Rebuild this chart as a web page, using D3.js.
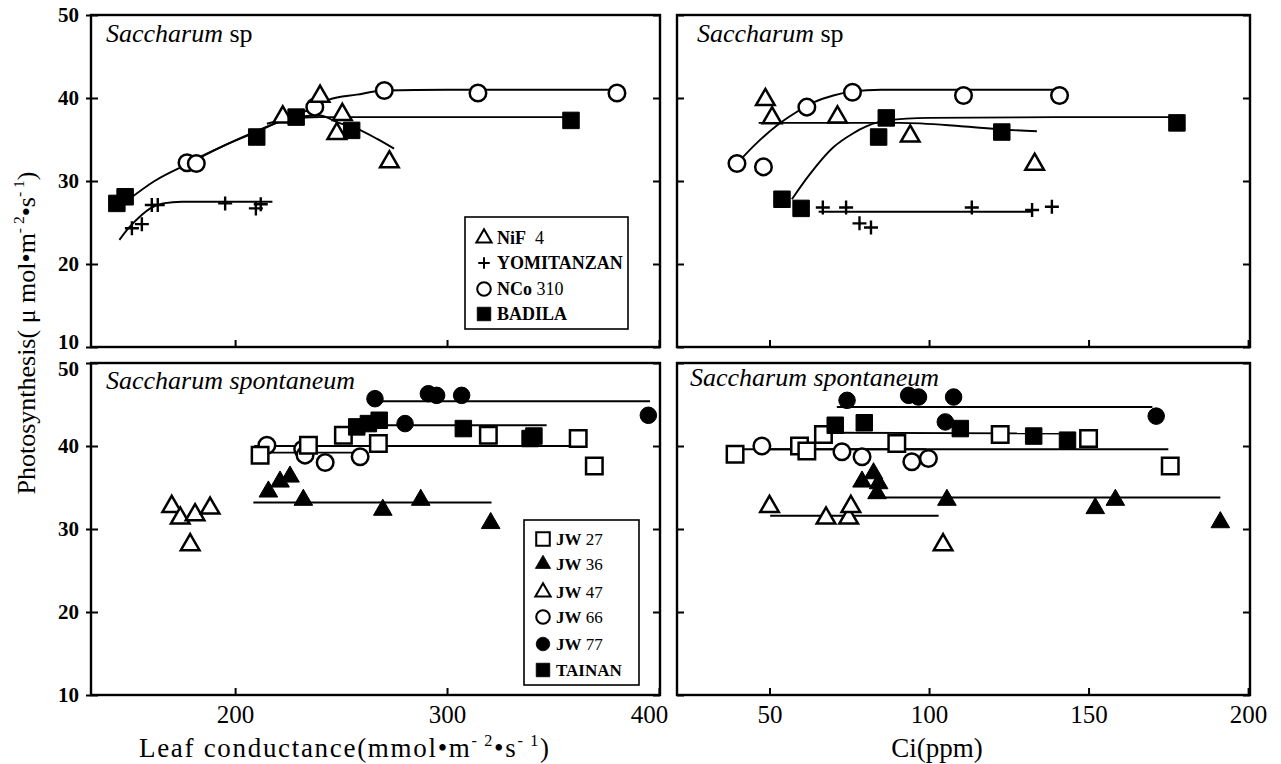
<!DOCTYPE html>
<html>
<head>
<meta charset="utf-8">
<script src="https://cdn.jsdelivr.net/npm/d3@7"></script>
<style>
  body { margin: 0; background: #fff; }
</style>
</head>
<body>
<script>
// ---- data ----
// top panels: Saccharum sp, [x, photosynthesis]
var nif4Cond   = [[222.5,37.7],[240.1,40.2],[250.6,38.0],[248,35.7],[272.8,32.3]];
var yomiCond   = [[151.3,24.3],[156,24.8],[160.7,27.1],[163.5,27.1],[195.3,27.3],[209.8,26.7],[212.1,27.2]];
var nco310Cond = [[177.3,32.2],[181.7,32.1],[237.6,38.9],[270.4,40.9],[314.6,40.6],[380.2,40.6]];
var badilaCond = [[144.2,27.3],[148.1,28.1],[210.2,35.3],[228.8,37.7],[255,36.1],[358.5,37.3]];

var nif4Ci   = [[48.7,39.8],[50.8,37.6],[71.3,37.7],[94.1,35.4],[133.1,32.0]];
var yomiCi   = [[66.7,26.8],[74,26.8],[78.2,24.9],[81.8,24.4],[113.4,26.8],[132.3,26.5],[138.5,26.9]];
var nco310Ci = [[39.8,32.1],[48.1,31.7],[61.7,38.9],[76,40.7],[110.8,40.3],[140.9,40.3]];
var badilaCi = [[53.9,27.8],[59.9,26.7],[86.6,37.6],[84.2,35.3],[122.8,35.9],[177.7,37.0]];

// fitted curves, top panels
var nif4CondFit   = [[215,36.9],[228,37.7],[240,37.9],[248,37.1],[257.4,36.3],[266.8,35.1],[275,33.9]];
var yomiCondFit   = [[145.4,22.9],[150,24.4],[155,25.7],[160,26.7],[166,27.3],[175,27.5],[217.6,27.5]];
var nco310CondFit = [[176,32.0],[195,34.3],[210,36.0],[225,37.6],[237.6,38.9],[244.3,39.8],[257.4,40.4],[270.4,40.9],[300,41.0],[380.2,41.0]];
var badilaCondFit = [[148.9,27.6],[162,30.0],[178.8,32.2],[195,34.3],[210,35.9],[226,37.5],[240,37.7],[300,37.7],[358.5,37.7]];

var nif4CiFit   = [[46.6,37.0],[91,37.0],[110,36.6],[123,36.2],[133.8,36.0]];
var yomiCiFit   = [[65.4,26.3],[132.5,26.3]];
var nco310CiFit = [[39.8,32.1],[45,34.2],[52.3,36.7],[58,38.2],[64,39.5],[70,40.3],[76,40.8],[85,41.0],[141,41.0]];
var badilaCiFit = [[57,27.8],[62,30.5],[70.1,34.1],[76,35.7],[80.5,36.6],[86.8,37.3],[100,37.6],[140,37.7],[177.7,37.7]];

// bottom panels: Saccharum spontaneum
var jw27Cond   = [[211.8,38.9],[234.6,40.1],[251.1,41.3],[267.6,40.3],[319.5,41.3],[361.9,40.9],[369.5,37.6]];
var jw36Cond   = [[215.7,34.5],[221.2,35.7],[225.9,36.3],[232.2,33.5],[269.7,32.3],[287.6,33.5],[320.6,30.7]];
var jw47Cond   = [[170.1,32.7],[174.1,31.3],[181.1,31.7],[188.2,32.5],[178.8,28.1]];
var jw66Cond   = [[215,40.1],[231.9,39.6],[233,38.9],[242.5,38.0],[259,38.7]];
var jw77Cond   = [[266,45.7],[291.2,46.3],[295.1,46.1],[306.9,46.1],[280.2,42.7],[395,43.7]];
var tainanCond = [[257.4,42.3],[262.9,42.7],[268,43.1],[307.7,42.1],[339.2,40.9],[341,41.2]];

var jw27Ci   = [[39.2,39.0],[59.4,40.0],[61.7,39.4],[66.9,41.4],[89.9,40.3],[122.3,41.4],[150,40.9],[175.6,37.6]];
var jw36Ci   = [[79,35.7],[82.6,36.7],[84.2,35.5],[83.7,34.3],[105.6,33.5],[152.1,32.5],[158.4,33.5],[191.3,30.8]];
var jw47Ci   = [[50,32.7],[67.7,31.3],[74.8,31.3],[75.5,32.7],[104.4,28.1]];
var jw66Ci   = [[47.6,40.0],[72.7,39.3],[79,38.7],[94.6,38.1],[99.8,38.5]];
var jw77Ci   = [[74.3,45.5],[93.6,46.1],[96.7,45.9],[107.7,45.9],[105.1,42.9],[171.2,43.6]];
var tainanCi = [[70.6,42.5],[79.7,42.8],[109.8,42.1],[132.8,41.2],[143.4,40.7]];

// regression lines, bottom panels
var jw27CondFit   = [[209,40.0],[358,40.0]];
var jw36CondFit   = [[208.6,33.2],[321,33.2]];
var jw66CondFit   = [[215,39.2],[259,39.2]];
var jw77CondFit   = [[266.8,45.4],[395.8,45.4]];
var tainanCondFit = [[254,42.5],[347,42.5]];

var jw27CiFit   = [[41,39.6],[175,39.6]];
var jw36CiFit   = [[81,33.8],[191.3,33.8]];
var jw47CiFit   = [[50.2,31.6],[103,31.6]];
var jw66CiFit   = [[47.6,39.6],[99,39.6]];
var jw77CiFit   = [[71.1,44.7],[170,44.7]];
var tainanCiFit = [[72.2,41.6],[143,41.5]];

var yTicks    = [10, 20, 30, 40, 50];
var condTicks = [200, 300, 400];
var ciTicks   = [50, 100, 150, 200];

var topLegend = [["triOpen","NiF","  4"],["plus","YOMITANZAN",""],["circOpen","NCo"," 310"],["sqFill","BADILA",""]];
var botLegend = [["sqOpen","JW"," 27"],["triFill","JW"," 36"],["triOpen","JW"," 47"],["circOpen","JW"," 66"],["circFill","JW"," 77"],["sqFill","TAINAN",""]];

// ---- layout ----
var serif = "'Liberation Serif','Times New Roman',serif";
var svg = d3.select("body").append("svg")
    .attr("width", 1281).attr("height", 764)
    .style("font-family", serif);

var xCond = d3.scaleLinear().domain([132, 400.5]).range([91, 660]),
    xCi   = d3.scaleLinear().domain([21, 200.6]).range([677, 1250]),
    yTop  = d3.scaleLinear().domain([10, 50]).range([347, 15]),
    yBot  = d3.scaleLinear().domain([10, 50]).range([695, 363]);

function frame(xs, ys, xt, leftLabels) {
  var x0 = xs.range()[0], x1 = xs.range()[1], yb = ys.range()[0], yt = ys.range()[1];

  var gx = svg.append("g").attr("transform", "translate(0," + yb + ")")
    .call(d3.axisBottom(xs).tickValues(xt).tickSizeInner(-7).tickSizeOuter(0).tickPadding(10));
  gx.select(".domain").remove();
  gx.selectAll("line").attr("stroke-width", 2);
  if (ys === yTop) gx.selectAll("text").remove();
  else gx.selectAll("text").attr("font-family", serif).attr("font-size", 25)
        .attr("dx", function(d) { return d === 400 ? -10 : 0; });

  var gl = svg.append("g").attr("transform", "translate(" + x0 + ",0)")
    .call(d3.axisLeft(ys).tickValues(yTicks).tickSizeInner(-7).tickSizeOuter(0).tickPadding(12));
  gl.select(".domain").remove();
  gl.selectAll("line").attr("stroke-width", 2);
  if (leftLabels) {
    gl.selectAll("text").attr("font-family", serif).attr("font-size", 21).attr("font-weight", "bold")
      .attr("dy", function(d) {
        if (ys === yTop && d === 10) return "0.05em";
        if (ys === yBot && d === 50) return "0.6em";
        return "0.32em";
      });
    svg.append("g").attr("transform", "translate(" + x0 + ",0)")
      .call(d3.axisLeft(ys).tickValues(yTicks).tickSize(5).tickFormat(""))
      .call(function(g) { g.select(".domain").remove(); g.selectAll("line").attr("stroke-width", 2); });
  } else gl.selectAll("text").remove();

  var gr = svg.append("g").attr("transform", "translate(" + x1 + ",0)")
    .call(d3.axisRight(ys).tickValues(yTicks).tickSizeInner(-7).tickSizeOuter(0).tickFormat(""));
  gr.select(".domain").remove();
  gr.selectAll("line").attr("stroke-width", 2);

  svg.append("rect").attr("x", x0).attr("y", yt).attr("width", x1 - x0).attr("height", yb - yt)
    .attr("fill", "none").attr("stroke", "#000").attr("stroke-width", 2.4);
}

function fit(data, xs, ys, curve) {
  svg.append("path").datum(data)
    .attr("fill", "none").attr("stroke", "#000").attr("stroke-width", 1.9)
    .attr("d", d3.line().x(function(d) { return xs(d[0]); }).y(function(d) { return ys(d[1]); })
      .curve(curve || d3.curveLinear));
}

var symTri = d3.symbol().type(d3.symbolTriangle).size(150)(),
    symSq  = d3.symbol().type(d3.symbolSquare).size(272)(),
    symCirc = d3.symbol().type(d3.symbolCircle).size(215)();

function marker(g, kind, scale) {
  var p = g.append("path").attr("transform", "scale(" + (scale || 1) + ")");
  if (kind === "plus") {
    p.attr("d", "M-7,0H7M0,-7V7").attr("fill", "none").attr("stroke", "#000").attr("stroke-width", 2.4);
  } else {
    var d = kind.indexOf("tri") === 0 ? symTri : kind.indexOf("sq") === 0 ? symSq : symCirc;
    var open = kind.indexOf("Open") > 0;
    p.attr("d", d).attr("fill", open ? "#fff" : "#000").attr("stroke", "#000")
      .attr("stroke-width", open ? 2.5 : 1);
  }
}

function points(data, xs, ys, kind) {
  svg.append("g").selectAll("g").data(data).enter().append("g")
    .attr("transform", function(d) { return "translate(" + xs(d[0]) + "," + ys(d[1]) + ")"; })
    .each(function() { marker(d3.select(this), kind); });
}

// ---- panels ----
frame(xCond, yTop, condTicks, true);
frame(xCi, yTop, ciTicks, false);
frame(xCond, yBot, condTicks, true);
frame(xCi, yBot, ciTicks, false);

// top-left
fit(badilaCondFit, xCond, yTop, d3.curveMonotoneX);
fit(nco310CondFit, xCond, yTop, d3.curveMonotoneX);
fit(nif4CondFit, xCond, yTop, d3.curveMonotoneX);
fit(yomiCondFit, xCond, yTop, d3.curveMonotoneX);
points(yomiCond, xCond, yTop, "plus");
points(nco310Cond, xCond, yTop, "circOpen");
points(nif4Cond, xCond, yTop, "triOpen");
points(badilaCond, xCond, yTop, "sqFill");

// top-right
fit(badilaCiFit, xCi, yTop, d3.curveMonotoneX);
fit(nco310CiFit, xCi, yTop, d3.curveMonotoneX);
fit(nif4CiFit, xCi, yTop, d3.curveMonotoneX);
fit(yomiCiFit, xCi, yTop);
points(yomiCi, xCi, yTop, "plus");
points(nco310Ci, xCi, yTop, "circOpen");
points(nif4Ci, xCi, yTop, "triOpen");
points(badilaCi, xCi, yTop, "sqFill");

// bottom-left
fit(jw27CondFit, xCond, yBot);
fit(jw36CondFit, xCond, yBot);
fit(jw66CondFit, xCond, yBot);
fit(jw77CondFit, xCond, yBot);
fit(tainanCondFit, xCond, yBot);
points(jw47Cond, xCond, yBot, "triOpen");
points(jw36Cond, xCond, yBot, "triFill");
points(jw66Cond, xCond, yBot, "circOpen");
points(jw27Cond, xCond, yBot, "sqOpen");
points(jw77Cond, xCond, yBot, "circFill");
points(tainanCond, xCond, yBot, "sqFill");

// bottom-right
fit(jw27CiFit, xCi, yBot);
fit(jw36CiFit, xCi, yBot);
fit(jw47CiFit, xCi, yBot);
fit(jw66CiFit, xCi, yBot);
fit(jw77CiFit, xCi, yBot);
fit(tainanCiFit, xCi, yBot);
points(jw47Ci, xCi, yBot, "triOpen");
points(jw36Ci, xCi, yBot, "triFill");
points(jw66Ci, xCi, yBot, "circOpen");
points(jw27Ci, xCi, yBot, "sqOpen");
points(jw77Ci, xCi, yBot, "circFill");
points(tainanCi, xCi, yBot, "sqFill");

// ---- panel titles ----
function title(x, y, italic, plain) {
  var t = svg.append("text").attr("x", x).attr("y", y).attr("font-size", 26);
  t.append("tspan").attr("font-style", "italic").text(italic);
  if (plain) t.append("tspan").text(plain);
}
title(106, 42, "Saccharum", " sp");
title(697, 42, "Saccharum", " sp");
title(106, 389, "Saccharum spontaneum");
title(690, 386, "Saccharum spontaneum");

// ---- legends ----
function legend(items, x, y, w, h, rows, symX, txtX, fs) {
  svg.append("rect").attr("x", x).attr("y", y).attr("width", w).attr("height", h)
    .attr("fill", "#fff").attr("stroke", "#000").attr("stroke-width", 1.6);
  items.forEach(function(it, i) {
    var g = svg.append("g").attr("transform", "translate(" + symX + "," + rows[i] + ")");
    marker(g, it[0], 0.82);
    var t = svg.append("text").attr("x", txtX).attr("y", rows[i] + 6).attr("font-size", fs)
      .style("white-space", "pre");
    t.append("tspan").attr("font-weight", "bold").text(it[1]);
    if (it[2]) t.append("tspan").text(it[2]);
  });
}
legend(topLegend, 465, 217, 163, 112, [238, 263, 289, 314], 484, 497, 18);
legend(botLegend, 524, 520, 115, 165, [539, 564, 592, 617, 644, 670], 543, 556, 17);

// ---- axis titles ----
function unitText(t, fs, pre, post) {
  var up = Math.round(-0.42 * fs);
  t.append("tspan").text(pre);
  t.append("tspan").attr("font-size", fs * 0.6).attr("dy", up).text("- 2");
  t.append("tspan").attr("dy", -up).text("•s");
  t.append("tspan").attr("font-size", fs * 0.6).attr("dy", up).text("- 1");
  t.append("tspan").attr("dy", -up).text(post);
}
var xt = svg.append("text").attr("x", 139).attr("y", 757).attr("font-size", 27)
  .attr("textLength", 410).attr("lengthAdjust", "spacing")
  .style("white-space", "pre");
unitText(xt, 27, "Leaf conductance(mmol•m", ")");

svg.append("text").attr("x", 937).attr("y", 757).attr("font-size", 27)
  .attr("text-anchor", "middle").text("Ci(ppm)");

var yt = svg.append("text").attr("transform", "translate(35,333) rotate(-90)")
  .attr("text-anchor", "middle").attr("font-size", 26);
unitText(yt, 26, "Photosynthesis( μ mol•m", ")");
</script>
</body>
</html>
